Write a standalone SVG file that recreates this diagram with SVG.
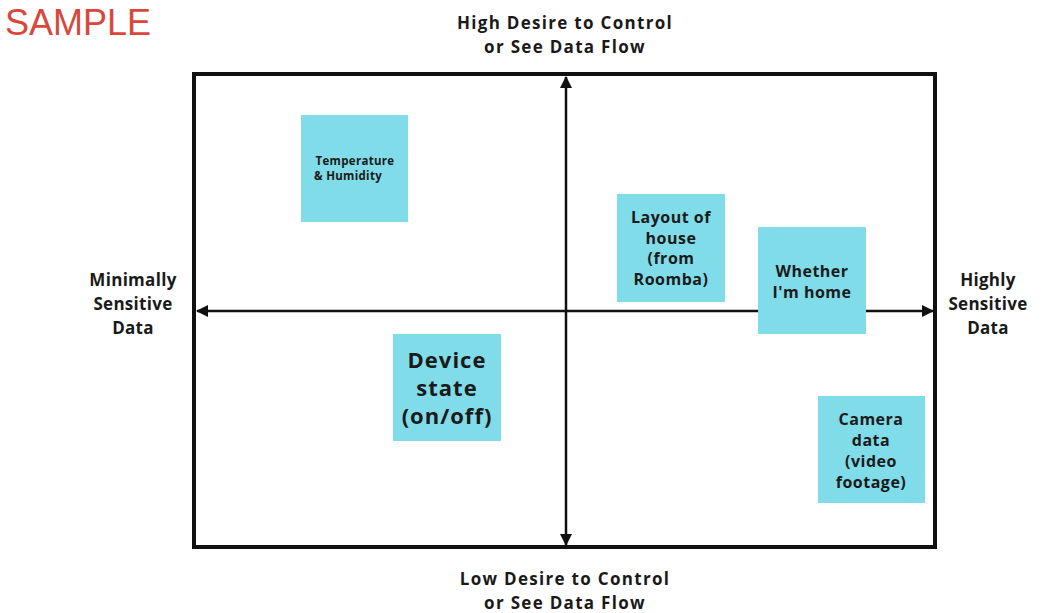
<svg xmlns="http://www.w3.org/2000/svg" width="1042" height="613" viewBox="0 0 1042 613">
<style>
.box{fill:#80dce9}
.t{font-family:"Open Sans","Liberation Sans",sans-serif;font-weight:700;fill:#1a1a1a;text-anchor:middle}
.ax{font-family:"Open Sans","Liberation Sans",Arial,sans-serif;font-weight:700;font-size:17px;fill:#1a1a1a;text-anchor:middle;letter-spacing:0.3px}
.wide{letter-spacing:1.3px}
.axis{stroke:#111;stroke-width:2.5;fill:none}
</style>
<defs>
<marker id="ah" markerWidth="12" markerHeight="12" viewBox="0 0 12 12" refX="11" refY="6" orient="auto-start-reverse" markerUnits="userSpaceOnUse">
<path d="M0,0 L12,6 L0,12 z" fill="#111"/>
</marker>
</defs>
<rect width="1042" height="613" fill="#fff"/>
<text x="5" y="35" font-family="Liberation Sans,Arial,sans-serif" font-size="36" fill="#d9473c">SAMPLE</text>
<g id="frame"><rect x="194" y="74" width="741" height="473" fill="none" stroke="#111" stroke-width="4"/></g>
<g id="connectors">
<line class="axis" x1="566" y1="77" x2="566" y2="545" marker-start="url(#ah)" marker-end="url(#ah)"/>
<line class="axis" x1="197" y1="311" x2="933" y2="311" marker-start="url(#ah)" marker-end="url(#ah)"/>
</g>
<g id="label-top"><text class="ax wide" x="565" y="29">High Desire to Control</text><text class="ax wide" x="565" y="53">or See Data Flow</text></g>
<g id="label-bottom"><text class="ax wide" x="565" y="585">Low Desire to Control</text><text class="ax wide" x="565" y="609">or See Data Flow</text></g>
<g id="label-left"><text class="ax" x="133" y="286">Minimally</text><text class="ax" x="133" y="310">Sensitive</text><text class="ax" x="133" y="334">Data</text></g>
<g id="label-right"><text class="ax" x="988" y="286">Highly</text><text class="ax" x="988" y="310">Sensitive</text><text class="ax" x="988" y="334">Data</text></g>
<g id="temp"><rect class="box" x="301" y="115" width="107" height="107"/><text class="t" x="355" y="165" font-size="11.5" letter-spacing="0.3">Temperature</text><text class="t" x="348" y="180" font-size="11.5" letter-spacing="0.3">&amp; Humidity</text></g>
<g id="layout"><rect class="box" x="617" y="194" width="108" height="108"/><text class="t" font-size="16" letter-spacing="0.5" x="671" y="223">Layout of</text><text class="t" font-size="16" letter-spacing="0.5" x="671" y="244">house</text><text class="t" font-size="16" letter-spacing="0.5" x="671" y="264">(from</text><text class="t" font-size="16" letter-spacing="0.5" x="671" y="285">Roomba)</text></g>
<g id="home"><rect class="box" x="758" y="227" width="108" height="107"/><text class="t" font-size="16" letter-spacing="0.5" x="812" y="277">Whether</text><text class="t" font-size="16" letter-spacing="0.5" x="812" y="298">I'm home</text></g>
<g id="device"><rect class="box" x="393" y="334" width="108" height="107"/><text class="t" font-size="22" letter-spacing="1" x="447" y="368">Device</text><text class="t" font-size="22" letter-spacing="1" x="447" y="396">state</text><text class="t" font-size="22" letter-spacing="1" x="447" y="424">(on/off)</text></g>
<g id="camera"><rect class="box" x="818" y="396" width="107" height="107"/><text class="t" font-size="16" letter-spacing="0.5" x="871" y="425">Camera</text><text class="t" font-size="16" letter-spacing="0.5" x="871" y="446">data</text><text class="t" font-size="16" letter-spacing="0.5" x="871" y="467">(video</text><text class="t" font-size="16" letter-spacing="0.5" x="871" y="488">footage)</text></g>
</svg>
